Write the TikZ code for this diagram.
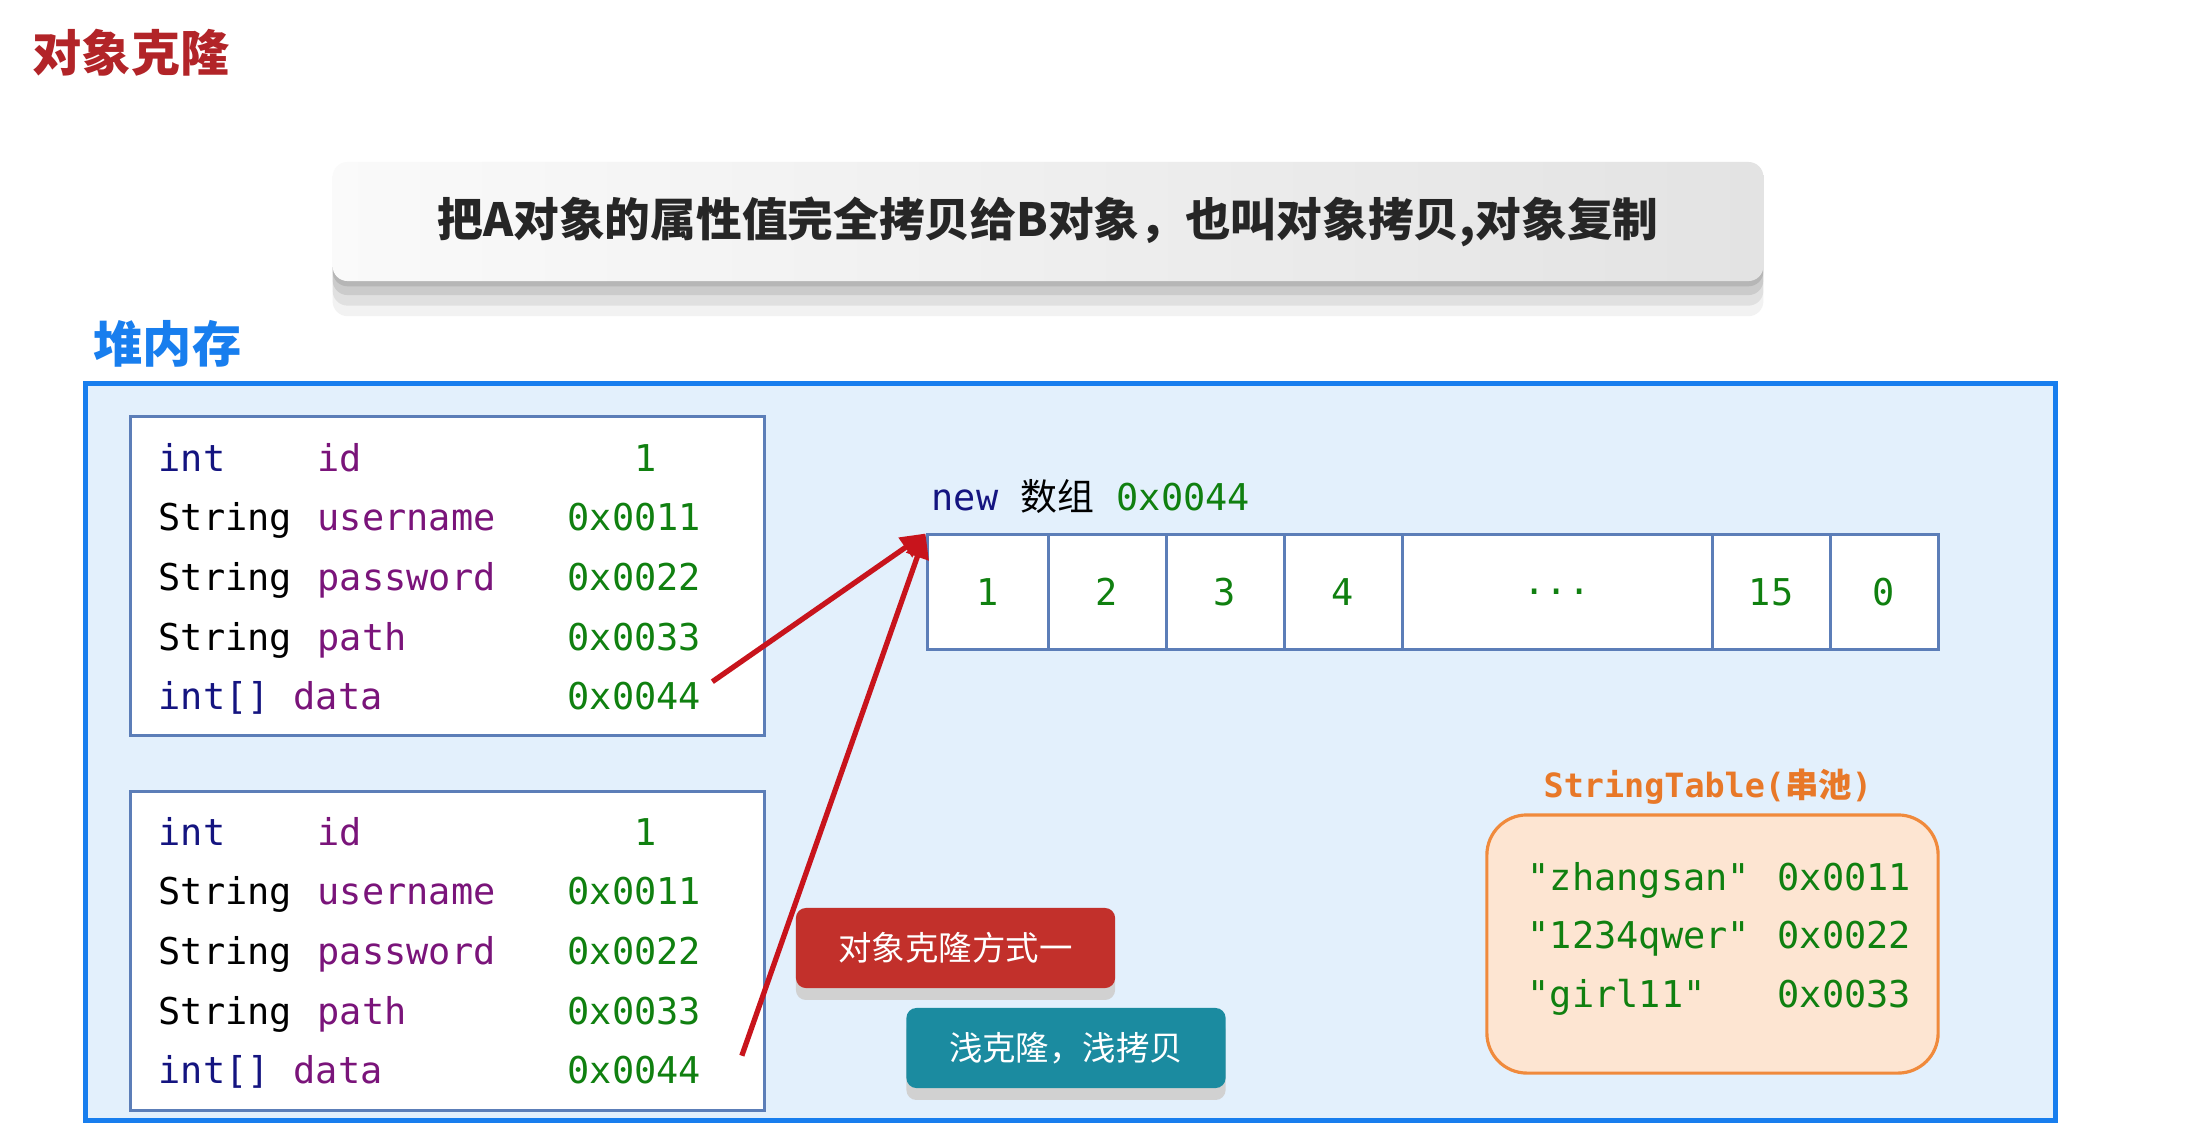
\documentclass[tikz,border=0pt]{standalone}
\usepackage{fontspec}
\setmainfont{Noto Sans CJK SC}
\setmonofont{DejaVu Sans Mono}
\usetikzlibrary{arrows.meta, positioning, shadows}

\definecolor{titlered}{RGB}{178,36,40}
\definecolor{heapblue}{RGB}{24,126,238}
\definecolor{heapfill}{RGB}{227,240,252}
\definecolor{boxblue}{RGB}{92,126,184}
\definecolor{kwnavy}{RGB}{20,20,128}
\definecolor{fieldpurple}{RGB}{122,20,122}
\definecolor{valgreen}{RGB}{16,128,16}
\definecolor{poolorange}{RGB}{240,138,60}
\definecolor{poolfill}{RGB}{253,229,210}
\definecolor{poollabel}{RGB}{232,120,40}
\definecolor{btnred}{RGB}{194,48,43}
\definecolor{btnteal}{RGB}{27,139,160}
\definecolor{arrowred}{RGB}{200,20,28}

\tikzset{
  code/.style={anchor=base west, inner sep=0, font=\fontsize{10.5}{12}\selectfont\ttfamily},
  objbox/.style={draw=boxblue, line width=0.85pt, fill=white, minimum width=6.33cm, minimum height=3.18cm},
  cell/.style={draw=boxblue, line width=0.85pt, fill=white, minimum height=1.14cm, inner sep=0,
    font=\fontsize{10.5}{12}\selectfont\ttfamily, text=valgreen},
  btn/.style={text=white, rounded corners=0.1cm, minimum width=3.19cm, minimum height=0.8cm,
    font=\fontsize{9.5}{11}\selectfont,
    drop shadow={shadow xshift=0pt, shadow yshift=-3.4pt, opacity=1, fill=black!18}},
  ref/.style={-{Triangle[length=7pt,width=6.5pt]}, line width=1.5pt, draw=arrowred}
}

\begin{document}
\begin{tikzpicture}[x=0.01cm, y=-0.01cm]
    \useasboundingbox (0,0) rectangle (2203,1136);
    \fill[white] (0,0) rectangle (2203,1136);

    \node[anchor=west, inner sep=0, text=titlered, font=\fontsize{14}{16}\selectfont\bfseries] (title) at (32,53) {对象克隆};

    \node[rounded corners=0.15cm, minimum width=14.3cm, minimum height=1.19cm,
        left color=black!2, right color=black!11,
        drop shadow={shadow xshift=0pt, shadow yshift=-10pt, opacity=0.05, fill=black},
        drop shadow={shadow xshift=0pt, shadow yshift=-7pt, opacity=0.07, fill=black},
        drop shadow={shadow xshift=0pt, shadow yshift=-4pt, opacity=0.09, fill=black},
        drop shadow={shadow xshift=0pt, shadow yshift=-1.5pt, opacity=0.1, fill=black},
        text=black!85, font=\fontsize{13}{15}\selectfont\bfseries] (motto) at (1048,221.5)
        {把A对象的属性值完全拷贝给B对象，也叫对象拷贝,对象复制};

    \node[anchor=west, inner sep=0, text=heapblue, font=\fontsize{14}{16}\selectfont\bfseries] (heaplabel) at (93,344) {堆内存};
    \node[draw=heapblue, line width=1.4pt, fill=heapfill, minimum width=19.69cm, minimum height=7.36cm] (heap) at (1070.5,752) {};

    % two objects
    \node[objbox] (obj1) at (447.5,576) {};
    \node[objbox] (obj2) at (447.5,951) {};
    \foreach \b/\y in {1/471, 2/845} {
      \foreach \kw/\ty/\nx/\fd/\va [count=\i] in {kwnavy/int/317/id/{\phantom{0x0}1}, black/String/317/username/0x0011,
          black/String/317/password/0x0022, black/String/317/path/0x0033, kwnavy/int[]/293/data/0x0044} {
        \node[code, text=\kw] (t\b\i) at (158, \y+59.7*\i-59.7) {\ty};
        \node[code, text=fieldpurple] (n\b\i) at (\nx, \y+59.7*\i-59.7) {\fd};
        \node[code, text=valgreen] (v\b\i) at (567, \y+59.7*\i-59.7) {\va};
      }
    }

    % array
    \node[code] (arrname) at (931,510) {\textcolor{kwnavy}{new} {\rmfamily 数组} \textcolor{valgreen}{0x0044}};
    \foreach \x/\w/\v [count=\i] in {987.5/121/1, 1107/118/2, 1225/118/3, 1343/118/4, 1557/310/.{}.{}., 1771/118/15, 1884/108/0}
        \node[cell, minimum width=\w*0.01cm] (c\i) at (\x,592) {\v};

    % string pool
    \node[anchor=west, inner sep=0, text=poollabel, font=\fontsize{9.5}{11}\selectfont\ttfamily\bfseries] (poolname) at (1543,787)
        {StringTable({\rmfamily 串池})};
    \node[draw=poolorange, line width=0.9pt, fill=poolfill, rounded corners=0.4cm, minimum width=4.51cm, minimum height=2.58cm] (pool) at (1712.5,944) {};
    \foreach \s/\a [count=\i] in {"zhangsan"/0x0011, "1234qwer"/0x0022, "girl11"/0x0033} {
        \node[code, text=valgreen] (s\i) at (1527, 890+58.5*\i-58.5) {\s};
        \node[code, text=valgreen] (a\i) at (1777, 890+58.5*\i-58.5) {\a};
    }

    \node[btn, fill=btnred] (way1) at (955.5,948) {对象克隆方式一};
    \node[btn, fill=btnteal] (shallow) at (1066,1048) {浅克隆，浅拷贝};

    \draw[ref] ([xshift=3pt]v15.north east) -- (c1.north west);
    \draw[ref] ([xshift=0.4cm]v25.north east) -- (c1.north west);
\end{tikzpicture}
\end{document}
